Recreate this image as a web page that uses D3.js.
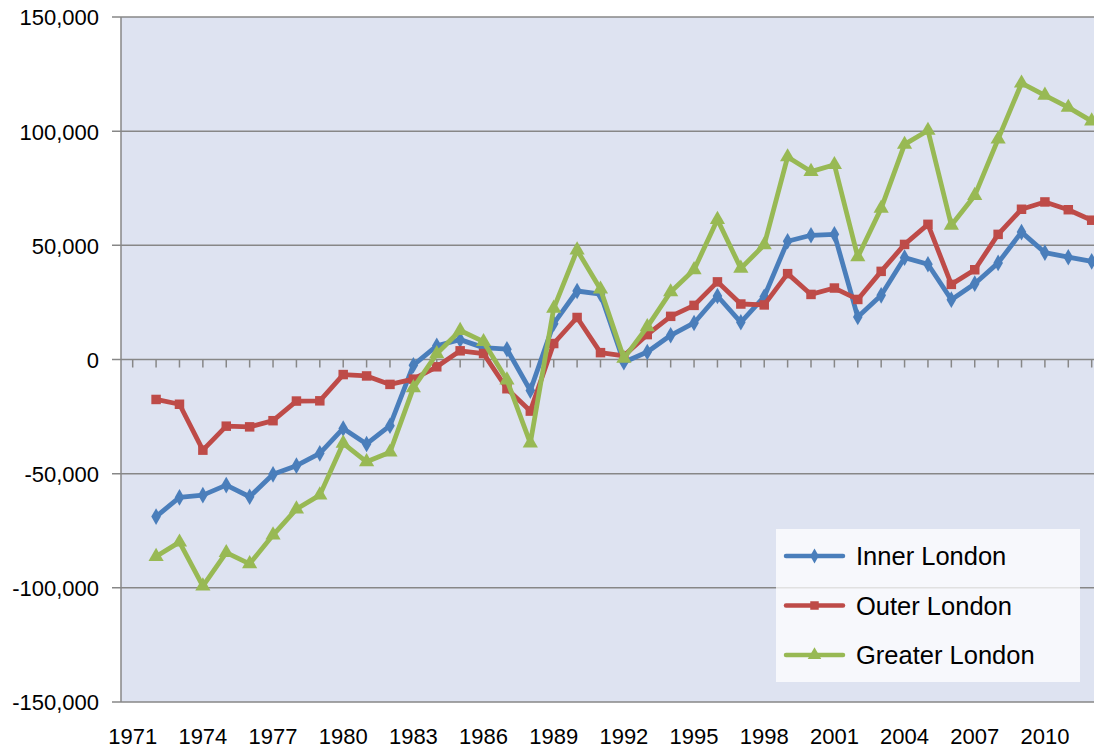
<!DOCTYPE html>
<html><head><meta charset="utf-8">
<script src="https://cdn.jsdelivr.net/npm/d3@7"></script>
<style>
html,body{margin:0;padding:0;background:#fff;overflow:hidden;}
text{font-family:"Liberation Sans",Arial,sans-serif;fill:#000;}
</style></head>
<body>
<svg id="chart" width="1094" height="749"></svg>
<script>
const years = d3.range(1971, 2013);
const tickLabels = ["1971","1974","1977","1980","1983","1986","1989","1992","1995","1998","2001","2004","2007","2010"];
const yTicks = [-150000,-100000,-50000,0,50000,100000,150000];
const seriesNames = ["Inner London","Outer London","Greater London"];
const seriesColors = ["#4a7ebb","#be4b48","#98b954"];
// values for 1972..2012
const dataYears = d3.range(1972, 2013);
const innerLondon = [-68800,-60400,-59400,-55000,-60100,-50300,-46500,-41100,-30200,-37000,-29000,-2500,6000,8700,5200,4500,-13600,15700,30000,28600,-1200,3300,10600,16000,27800,16300,27500,51800,54400,54800,18600,28100,44600,41700,26200,33200,42300,55800,46800,44800,43000];
const outerLondon = [-17500,-19600,-39700,-29200,-29500,-26800,-18200,-18100,-6600,-7200,-10900,-8600,-3200,3800,2600,-12800,-22600,7000,18400,3000,1600,10900,18900,23700,34000,24300,23900,37600,28500,31300,26300,38600,50400,59200,32900,39300,54800,65800,69000,65600,61000];
const greaterLondon = [-86300,-80000,-99200,-84600,-89500,-76900,-65500,-59400,-36700,-44800,-40600,-12400,2500,12700,7800,-9000,-36600,22400,47900,30800,500,14300,29600,39300,61300,39900,50200,88700,82300,85300,44900,66200,94200,100300,58800,71800,96500,121000,115700,110400,104400];

const svg = d3.select("#chart");
const mLeft = 121, mTop = 17, mBottom = 702, band = 23.39;
const x = d3.scaleBand().domain(years).range([mLeft, mLeft + band*years.length]).paddingInner(0).paddingOuter(0);
const cx = yr => x(yr) + x.bandwidth()/2;
const y = d3.scaleLinear().domain([-150000,150000]).range([mBottom, mTop]);

// plot background
svg.append("rect").attr("x", mLeft).attr("y", mTop).attr("width", 1200).attr("height", mBottom-mTop).attr("fill","#dee3f1");

// gridlines
svg.append("g").selectAll("line").data(yTicks).join("line")
  .attr("x1", mLeft-9).attr("x2", 1100).attr("y1", d=>y(d)).attr("y2", d=>y(d))
  .attr("stroke","#878787").attr("stroke-width",1.5);
// left axis line
svg.append("line").attr("x1",mLeft).attr("x2",mLeft).attr("y1",mTop).attr("y2",mBottom).attr("stroke","#878787").attr("stroke-width",1.5);

// y labels
const fmt = d3.formatLocale({decimal:".", thousands:",", grouping:[3], currency:["",""], minus:"-"}).format(",");
const yAxis = d3.axisLeft(y).tickValues(yTicks).tickSize(0).tickPadding(0).tickFormat(fmt);
const yg = svg.append("g").attr("transform",`translate(${mLeft-22},0)`).call(yAxis);
yg.select(".domain").remove();
yg.selectAll("text").attr("font-size","22px").attr("font-family","'Liberation Sans',Arial,sans-serif").attr("fill","#000").attr("dy","0.36em");

// x ticks on zero line
const xAxis = d3.axisBottom(x).tickSize(8).tickFormat(() => "");
const xg = svg.append("g").attr("transform",`translate(0,${y(0)})`).call(xAxis);
xg.select(".domain").remove();
xg.selectAll("line").attr("stroke","#878787").attr("stroke-width",1.5);
xg.selectAll("text").remove();
// x labels at bottom
const xl = d3.axisBottom(x).tickSize(0).tickPadding(0).tickValues(tickLabels.map(Number)).tickFormat(d=>String(d));
const xlg = svg.append("g").attr("transform",`translate(0,${mBottom+26})`).call(xl);
xlg.select(".domain").remove();
xlg.selectAll("text").attr("font-size","22px").attr("font-family","'Liberation Sans',Arial,sans-serif").attr("fill","#000");

const allSeries = [innerLondon, outerLondon, greaterLondon];
const symbols = [d3.symbolDiamond, d3.symbolSquare, d3.symbolTriangle];
const symSizes = [80, 90, 100];
const line = d3.line().x((d,i)=>cx(dataYears[i])).y(d=>y(d));
const plot = svg.append("g");
allSeries.forEach((vals, si) => {
  plot.append("path").datum(vals).attr("d", line).attr("fill","none")
    .attr("stroke", seriesColors[si]).attr("stroke-width",4.8).attr("stroke-linejoin","round");
  plot.append("g").selectAll("path").data(vals).join("path")
    .attr("transform",(d,i)=>`translate(${cx(dataYears[i])},${y(d)})`)
    .attr("d", d3.symbol().type(symbols[si]).size(symSizes[si]))
    .attr("fill", seriesColors[si]);
});

// legend
const lg = svg.append("g");
lg.append("rect").attr("x",776).attr("y",529).attr("width",304).attr("height",153).attr("fill","#fff").attr("fill-opacity",0.75);
const legY = [556, 605.5, 655];
seriesNames.forEach((n,i)=>{
  lg.append("line").attr("x1",786).attr("x2",843).attr("y1",legY[i]).attr("y2",legY[i]).attr("stroke",seriesColors[i]).attr("stroke-width",4.5).attr("stroke-linecap","round");
  lg.append("path").attr("transform",`translate(814.5,${legY[i]})`).attr("d",d3.symbol().type(symbols[i]).size(symSizes[i]*0.8)).attr("fill",seriesColors[i]);
  lg.append("text").attr("x",856).attr("y",legY[i]).attr("dy","0.36em").attr("font-size","25.5px").text(n);
});
</script>
</body></html>
